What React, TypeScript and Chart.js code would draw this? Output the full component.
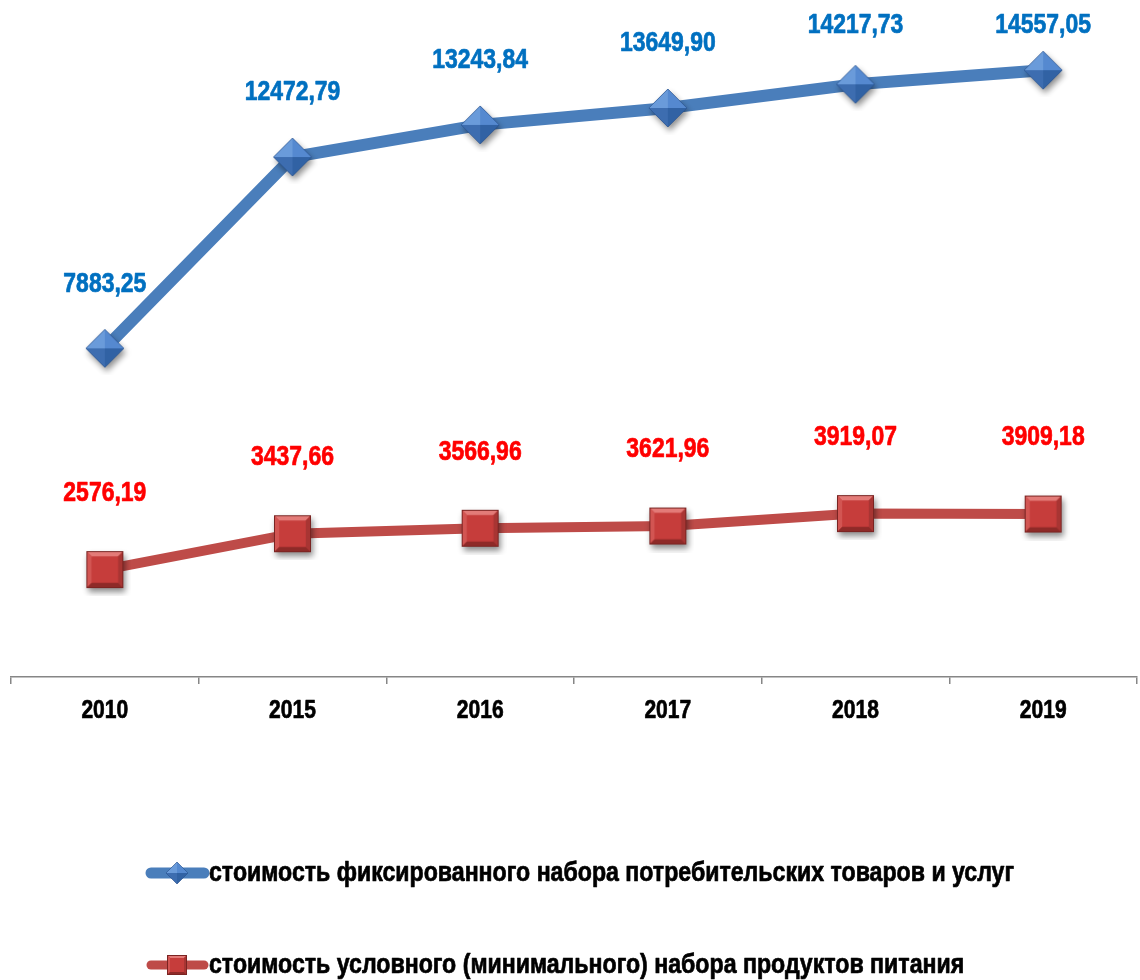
import React, { useEffect, useRef } from "react";
import { Chart, registerables } from "chart.js";

Chart.register(...registerables);

const categories = ["2010", "2015", "2016", "2017", "2018", "2019"];
const fixedSetCost = [7883.25, 12472.79, 13243.84, 13649.9, 14217.73, 14557.05];
const foodSetCost = [2576.19, 3437.66, 3566.96, 3621.96, 3919.07, 3909.18];
const seriesNames = [
  "стоимость фиксированного набора потребительских товаров и услуг",
  "стоимость условного (минимального) набора продуктов питания",
];

const FONT = '"Liberation Sans", Arial, sans-serif';
const BLUE_LINE = "#4A7EBB";
const RED_LINE = "#BE4B48";
const BLUE_TEXT = "#0070C0";
const RED_TEXT = "#FF0000";

function makeDiamond(r: number, shadow: boolean): HTMLCanvasElement {
  const pad = shadow ? 8 : 2;
  const size = Math.ceil(2 * r + 2 * pad);
  const c = document.createElement("canvas");
  c.width = size;
  c.height = size;
  const ctx = c.getContext("2d")!;
  const cx = size / 2;
  const cy = size / 2;
  if (shadow) {
    ctx.save();
    ctx.shadowColor = "rgba(0,0,0,0.45)";
    ctx.shadowBlur = 6;
    ctx.shadowOffsetX = 2;
    ctx.shadowOffsetY = 4;
    ctx.beginPath();
    ctx.moveTo(cx, cy - r);
    ctx.lineTo(cx + r, cy);
    ctx.lineTo(cx, cy + r);
    ctx.lineTo(cx - r, cy);
    ctx.closePath();
    ctx.fillStyle = "#3A6AA8";
    ctx.fill();
    ctx.restore();
  }
  const facets: [number, number, number, number, string][] = [
    [cx, cy - r, cx - r, cy, "#6A9BDA"],
    [cx, cy - r, cx + r, cy, "#5589D0"],
    [cx - r, cy, cx, cy + r, "#3D6DB0"],
    [cx + r, cy, cx, cy + r, "#3162A4"],
  ];
  for (const [x1, y1, x2, y2, col] of facets) {
    ctx.beginPath();
    ctx.moveTo(cx, cy);
    ctx.lineTo(x1, y1);
    ctx.lineTo(x2, y2);
    ctx.closePath();
    ctx.fillStyle = col;
    ctx.fill();
  }
  ctx.beginPath();
  ctx.moveTo(cx, cy - r);
  ctx.lineTo(cx + r, cy);
  ctx.lineTo(cx, cy + r);
  ctx.lineTo(cx - r, cy);
  ctx.closePath();
  ctx.strokeStyle = "rgba(40,80,140,0.8)";
  ctx.lineWidth = 0.8;
  ctx.stroke();
  return c;
}

function makeSquare(half: number, shadow: boolean): HTMLCanvasElement {
  const pad = shadow ? 8 : 2;
  const size = Math.ceil(2 * half + 2 * pad);
  const c = document.createElement("canvas");
  c.width = size;
  c.height = size;
  const ctx = c.getContext("2d")!;
  const x0 = size / 2 - half;
  const y0 = size / 2 - half;
  const w = 2 * half;
  const b = Math.max(3, half * 0.28);
  if (shadow) {
    ctx.save();
    ctx.shadowColor = "rgba(0,0,0,0.45)";
    ctx.shadowBlur = 6;
    ctx.shadowOffsetX = 2;
    ctx.shadowOffsetY = 4;
    ctx.fillStyle = "#A83C3A";
    ctx.fillRect(x0, y0, w, w);
    ctx.restore();
  }
  ctx.fillStyle = "#C63D3B";
  ctx.fillRect(x0, y0, w, w);
  const tri = (pts: number[][], col: string) => {
    ctx.beginPath();
    ctx.moveTo(pts[0][0], pts[0][1]);
    for (let i = 1; i < pts.length; i++) ctx.lineTo(pts[i][0], pts[i][1]);
    ctx.closePath();
    ctx.fillStyle = col;
    ctx.fill();
  };
  tri([[x0, y0], [x0 + w, y0], [x0 + w - b, y0 + b], [x0 + b, y0 + b]], "#E37B78");
  tri([[x0, y0], [x0 + b, y0 + b], [x0 + b, y0 + w - b], [x0, y0 + w]], "#D25552");
  tri([[x0 + w, y0], [x0 + w, y0 + w], [x0 + w - b, y0 + w - b], [x0 + w - b, y0 + b]], "#A83533");
  tri([[x0, y0 + w], [x0 + b, y0 + w - b], [x0 + w - b, y0 + w - b], [x0 + w, y0 + w]], "#8E2A28");
  ctx.strokeStyle = "#7A2422";
  ctx.lineWidth = 1;
  ctx.strokeRect(x0 + 0.5, y0 + 0.5, w - 1, w - 1);
  return c;
}

// draws horizontally condensed, slightly emboldened text (imitates a narrow bold face)
function narrowText(ctx: CanvasRenderingContext2D, text: string, x: number, y: number, align: "left" | "center", sx: number) {
  ctx.save();
  ctx.translate(x, y);
  ctx.scale(sx, 1);
  ctx.textAlign = align;
  ctx.textBaseline = "middle";
  ctx.fillText(text, 0, 0);
  ctx.strokeStyle = ctx.fillStyle as string;
  ctx.lineWidth = 0.7;
  ctx.lineJoin = "round";
  ctx.strokeText(text, 0, 0);
  ctx.restore();
}

export default function App() {
  const ref = useRef<HTMLCanvasElement | null>(null);

  useEffect(() => {
    if (!ref.current) return;
    const diamond = makeDiamond(19, true);
    const square = makeSquare(18.5, true);
    const legendDiamond = makeDiamond(11, false);
    const legendSquare = makeSquare(10, false);

    const fmt = (v: number) => v.toFixed(2).replace(".", ",");

    const labelsPlugin = {
      id: "valueLabels",
      afterDatasetsDraw(chart: any) {
        const ctx = chart.ctx;
        ctx.save();
        ctx.font = `bold 27px ${FONT}`;
        const cfg = [
          { color: BLUE_TEXT, off: 64, minY: 26 },
          { color: RED_TEXT, off: 76, minY: 0 },
        ];
        chart.data.datasets.forEach((ds: any, i: number) => {
          const meta = chart.getDatasetMeta(i);
          meta.data.forEach((pt: any, j: number) => {
            const y = Math.max(pt.y - cfg[i].off, cfg[i].minY);
            ctx.fillStyle = cfg[i].color;
            narrowText(ctx, fmt(ds.data[j]), pt.x, y, "center", 0.85);
          });
        });
        // category labels
        const xs = chart.scales.x;
        ctx.font = `bold 26px ${FONT}`;
        ctx.fillStyle = "#000";
        categories.forEach((c, i) => {
          narrowText(ctx, c, xs.getPixelForTick(i), xs.top + 34, "center", 0.81);
        });
        ctx.restore();
      },
    };

    const legendPlugin = {
      id: "customLegend",
      afterDraw(chart: any) {
        const ctx = chart.ctx;
        ctx.save();
        const items = [
          { y: 873, color: BLUE_LINE, img: legendDiamond, w: 11 },
          { y: 965, color: RED_LINE, img: legendSquare, w: 9 },
        ];
        items.forEach((it, i) => {
          ctx.strokeStyle = it.color;
          ctx.lineWidth = it.w;
          ctx.lineCap = "round";
          ctx.beginPath();
          ctx.moveTo(151, it.y);
          ctx.lineTo(204, it.y);
          ctx.stroke();
          ctx.drawImage(it.img, 177 - it.img.width / 2, it.y - it.img.height / 2);
          ctx.font = `bold 27px ${FONT}`;
          ctx.fillStyle = "#000";
          narrowText(ctx, seriesNames[i], 209, it.y + 1, "left", 0.857);
        });
        ctx.restore();
      },
    };

    const chart = new Chart(ref.current, {
      type: "line",
      data: {
        labels: categories,
        datasets: [
          {
            label: seriesNames[0],
            data: fixedSetCost,
            borderColor: BLUE_LINE,
            backgroundColor: BLUE_LINE,
            borderWidth: 12,
            pointStyle: diamond as any,
            pointRadius: 20,
            tension: 0,
            clip: false as any,
          },
          {
            label: seriesNames[1],
            data: foodSetCost,
            borderColor: RED_LINE,
            backgroundColor: RED_LINE,
            borderWidth: 10,
            pointStyle: square as any,
            pointRadius: 20,
            tension: 0,
            clip: false as any,
          },
        ],
      },
      options: {
        animation: false,
        responsive: true,
        maintainAspectRatio: false,
        layout: { autoPadding: false, padding: { left: 11, right: 3, top: 10, bottom: 0 } } as any,
        plugins: {
          legend: { display: false },
          tooltip: { enabled: false },
        },
        scales: {
          x: {
            offset: true,
            grid: {
              offset: true,
              drawOnChartArea: false,
              drawTicks: true,
              tickLength: 7,
              color: "#868686",
              lineWidth: 1.5,
            },
            border: { display: true, color: "#868686", width: 1.5 },
            ticks: { display: false },
            afterFit: (s: any) => {
              s.height = 303;
            },
          },
          y: { display: false, min: 0, max: 16000 },
        },
      },
      plugins: [labelsPlugin, legendPlugin],
    });
    return () => chart.destroy();
  }, []);

  return (
    <div style={{ position: "absolute", left: 0, top: 0, width: 1140, height: 980, background: "#fff" }}>
      <canvas ref={ref} style={{ display: "block" }} />
    </div>
  );
}
